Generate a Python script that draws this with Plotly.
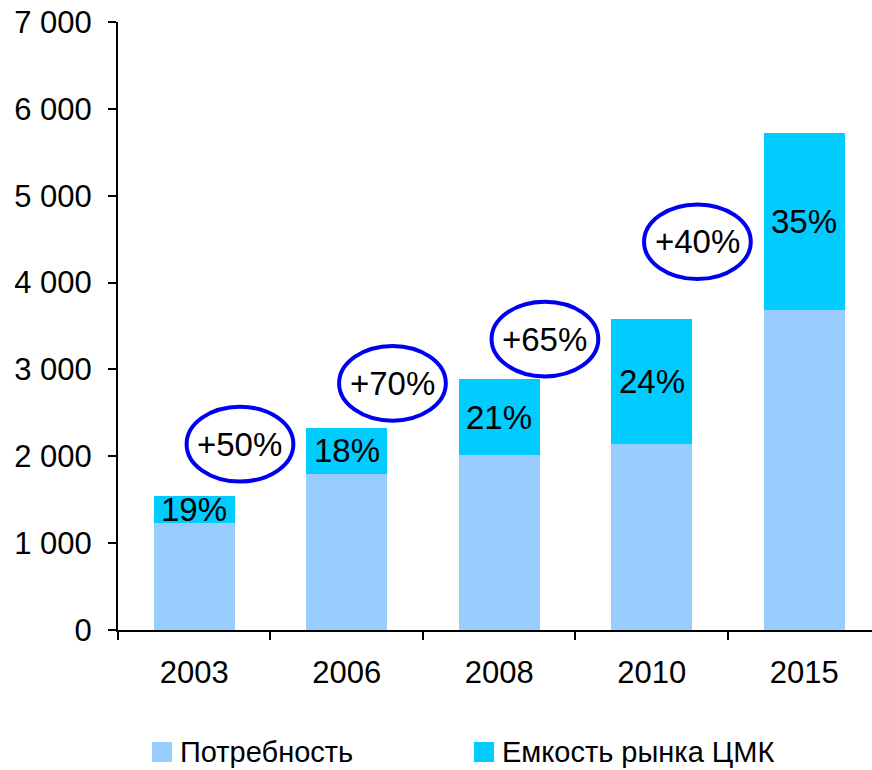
import plotly.graph_objects as go

# data
years = ["2003", "2006", "2008", "2010", "2015"]
need = [1230, 1800, 2010, 2140, 3680]          # Потребность
market = [310, 525, 880, 1440, 2040]           # Емкость рынка ЦМК (stacked on top)
market_share = ["19%", "18%", "21%", "24%", "35%"]
growth = ["+50%", "+70%", "+65%", "+40%"]
growth_y = [2140, 2840, 3350, 4470]            # vertical centre of each growth oval

y_ticks = [0, 1000, 2000, 3000, 4000, 5000, 6000, 7000]
y_labels = ["0", "1 000", "2 000", "3 000", "4 000", "5 000", "6 000", "7 000"]

FONT = "Liberation Sans, Arial, sans-serif"
C_NEED = "#99CCFF"
C_MARKET = "#00CCFF"

fig = go.Figure()
fig.add_trace(go.Bar(x=years, y=need, name="Потребность",
                     marker=dict(color=C_NEED, line=dict(width=0))))
fig.add_trace(go.Bar(x=years, y=market, name="Емкость рынка ЦМК",
                     marker=dict(color=C_MARKET, line=dict(width=0))))

# share labels centred in the top segment
for i, yr in enumerate(years):
    fig.add_annotation(x=i, y=need[i] + market[i] / 2, text=market_share[i],
                       showarrow=False, font=dict(size=33, color="black", family=FONT),
                       xref="x", yref="y")

# growth ovals between the bars
for i, g in enumerate(growth):
    cx = i + 0.3
    cy = growth_y[i]
    fig.add_shape(type="circle", xref="x", yref="y",
                  x0=cx - 0.35, x1=cx + 0.35, y0=cy - 430, y1=cy + 430,
                  line=dict(color="#0000F0", width=4), fillcolor="rgba(0,0,0,0)")
    fig.add_annotation(x=cx, y=cy, text=g, showarrow=False, xref="x", yref="y",
                       font=dict(size=33, color="black", family=FONT))

# legend drawn by hand (big square swatches, one row)
plot_h = 770 - 22 - 140
leg_y = (630 - 752) / plot_h
sw_h = 20 / plot_h
for name, col, x0 in [("Потребность", C_NEED, 152), ("Емкость рынка ЦМК", C_MARKET, 474)]:
    px0 = (x0 - 118) / 754
    px1 = (x0 + 20 - 118) / 754
    fig.add_shape(type="rect", xref="paper", yref="paper", x0=px0, x1=px1,
                  y0=leg_y - sw_h / 2, y1=leg_y + sw_h / 2,
                  fillcolor=col, line=dict(width=0))
    fig.add_annotation(x=px1 + 6 / 754, y=leg_y, xref="paper", yref="paper",
                       text=name, showarrow=False, xanchor="left", yanchor="middle",
                       font=dict(size=29, color="black", family=FONT))

fig.update_layout(
    barmode="stack",
    bargap=0.47,
    width=872, height=770,
    margin=dict(l=118, r=0, t=22, b=140, autoexpand=False),
    plot_bgcolor="white", paper_bgcolor="white",
    font=dict(family=FONT, color="black", size=30),
    showlegend=False,
)
fig.update_xaxes(range=[-0.5, 4.445], showline=True, linecolor="black", linewidth=2,
                 ticks="outside", tickson="boundaries", ticklen=8, tickcolor="black",
                 tickwidth=2, showgrid=False, ticklabelstandoff=14, automargin=False,
                 tickfont=dict(size=31))
fig.update_yaxes(range=[0, 7000], tickvals=y_ticks, ticktext=y_labels,
                 showline=True, linecolor="black", linewidth=2, ticks="outside",
                 ticklen=8, tickcolor="black", tickwidth=2, showgrid=False,
                 zeroline=False, automargin=False, ticklabelstandoff=10,
                 tickfont=dict(size=31))

# the page's default body margin would shift the chart by 8px
fig.write_html("out.html", config={"displayModeBar": False},
               post_script="document.body.style.margin='0';")
